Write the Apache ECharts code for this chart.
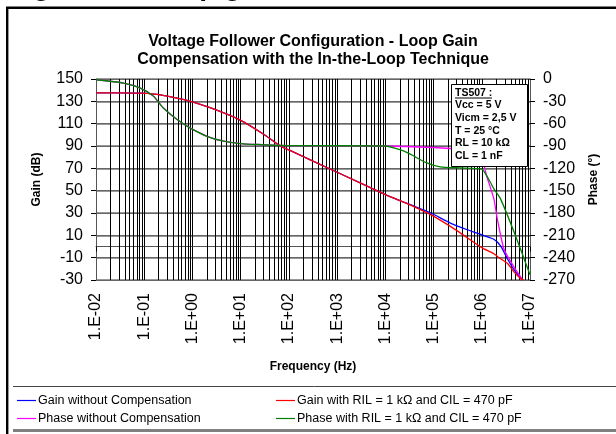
<!DOCTYPE html>
<html><head><meta charset="utf-8">
<script src="https://cdn.jsdelivr.net/npm/echarts@6/dist/echarts.min.js"></script>
<style>html,body{margin:0;padding:0;background:#fff}#c{width:616px;height:434px}</style>
</head><body><div id="c"></div>
<script>
// ---- tick labels ----
const xTickLabels = ['1.E-02','1.E-01','1.E+00','1.E+01','1.E+02','1.E+03','1.E+04','1.E+05','1.E+06','1.E+07'];
const gainTicks = [-30,-10,10,30,50,70,90,110,130,150];
const phaseTicks = [-270,-240,-210,-180,-150,-120,-90,-60,-30,0];

// ---- Gain without compensation (blue) ----
const freqGainNoComp = [0.01,0.03,0.08,0.16,0.32,0.6,1,3,10,30,66,100,1000,10000,17800,87000,224000,500000,800000,1000000,1780000,2450000,3400000,4700000,6900000];
const gainNoComp     = [137.5,137.5,137.3,136.5,134.5,132,129.5,122.5,113,100.5,90,86.5,66.5,46.5,42,30,21,15,12,10.5,6.5,0.5,-11,-21,-30];

// ---- Gain with RIL/CIL (red) ----
const freqGainComp = [0.01,0.03,0.08,0.16,0.32,0.6,1,3,10,30,66,100,1000,10000,17800,40000,87000,224000,363000,1000000,1780000,2450000,3400000,4700000,6500000,7400000];
const gainComp     = [137.5,137.5,137.3,136.5,134.5,132,129.5,122.5,113,100.5,90,86.5,66.5,46.5,42,35.5,28.5,18,12,-1,-6.5,-11,-15,-23,-29,-30];

// ---- Phase without compensation (magenta) ----
const freqPhaseNoComp = [0.01,0.037,0.081,0.155,0.25,0.48,0.89,2,4.4,9.8,22,100,10000,100000,316000,800000,1000000,1260000,1780000,2100000,2900000,4700000,6900000];
const phaseNoComp     = [-1,-5.4,-12,-23,-39,-54.5,-65.7,-77,-83.6,-86.7,-88,-89.5,-90,-92,-94,-97,-105,-130,-161,-188,-229,-253,-269];

// ---- Phase with RIL/CIL (green) ----
const freqPhaseComp = [0.01,0.037,0.081,0.155,0.25,0.48,0.89,2,4.4,9.8,22,100,10000,20000,33000,68000,138000,363000,1000000,1400000,1800000,2450000,4700000,10000000];
const phaseComp     = [-1,-5.4,-12,-23,-39,-54.5,-65.7,-77,-83.6,-86.7,-88,-89.5,-90,-95,-101,-112,-118,-119.5,-121,-135,-148,-161,-206,-263];

const seriesNames = ['Gain without Compensation','Phase without Compensation','Gain with RIL = 1 kΩ and CIL = 470 pF','Phase with RIL = 1 kΩ and CIL = 470 pF'];
const seriesColors = ['#0000ff','#ff00ff','#ff0000','#008000'];

const FONT = "'Liberation Sans', Arial, sans-serif";
const zip = (xs, ys) => xs.map((x, i) => [x, ys[i]]);

// minor vertical grid positions (2..9 within each decade)
const minorSteps = [2,3,4,5,6,7,8,9];
const decades = [0.01,0.1,1,10,100,1000,10000,100000,1000000];
const minorLines = [];
decades.forEach(d => minorSteps.forEach(k => minorLines.push({xAxis: +(d*k).toPrecision(3)})));

function lineSeries(name, data, color, yIdx, extra) {
  return Object.assign({
    name, type: 'line', data, yAxisIndex: yIdx, showSymbol: false, symbol: 'none',
    smooth: 0.2,
    lineStyle: {color, width: 1.3}, itemStyle: {color}, z: 3
  }, extra || {});
}

const chart = echarts.init(document.getElementById('c'));
const legendIcon = 'path://M0,6 L19,6 L19,7.2 L0,7.2 Z';
const boxFont = "bold 10.5px 'Liberation Sans', Arial";
chart.setOption({
  animation: false,
  backgroundColor: '#fff',
  title: {
    text: 'Voltage Follower Configuration - Loop Gain\nCompensation with the In-the-Loop Technique',
    left: 313, top: 32, textAlign: 'center', padding: 0,
    textStyle: {fontFamily: FONT, fontWeight: 'bold', fontSize: 16, lineHeight: 18.5, color: '#000'}
  },
  legend: [
    {data: [seriesNames[0], seriesNames[1]], orient: 'vertical', left: 12, top: 389, itemGap: 5,
     itemWidth: 19, itemHeight: 13, icon: legendIcon,
     textStyle: {fontFamily: FONT, fontSize: 12.5, color: '#000', padding: [0,0,0,-3]}},
    {data: [seriesNames[2], seriesNames[3]], orient: 'vertical', left: 271, top: 389, itemGap: 5,
     itemWidth: 19, itemHeight: 13, icon: legendIcon,
     textStyle: {fontFamily: FONT, fontSize: 12.5, color: '#000', padding: [0,0,0,-3]}}
  ],
  grid: {left: 96, top: 79, width: 434, height: 201},
  xAxis: {
    type: 'log', logBase: 10, min: 0.01, max: 10000000, splitNumber: 9,
    name: 'Frequency (Hz)', nameLocation: 'middle', nameGap: 81,
    nameTextStyle: {fontFamily: FONT, fontWeight: 'bold', fontSize: 12, color: '#000'},
    axisLine: {show: true, lineStyle: {color: '#555', width: 1}},
    axisTick: {show: true, length: 5, lineStyle: {color: '#000'}},
    axisLabel: {rotate: 90, margin: 13, fontFamily: FONT, fontSize: 16, color: '#000',
      formatter: v => xTickLabels[Math.round(Math.log10(v)) + 2]},
    splitLine: {show: true, lineStyle: {color: '#000', width: 1}}
  },
  yAxis: [
    {type: 'value', min: gainTicks[0], max: gainTicks[gainTicks.length-1], interval: 20, position: 'left',
     name: 'Gain (dB)', nameLocation: 'middle', nameGap: 53, nameRotate: 90,
     nameTextStyle: {fontFamily: FONT, fontWeight: 'bold', fontSize: 12, color: '#000'},
     axisLine: {show: true, lineStyle: {color: '#555'}},
     axisTick: {show: true, length: 5, lineStyle: {color: '#000'}},
     axisLabel: {margin: 13, fontFamily: FONT, fontSize: 16, color: '#000'},
     splitLine: {show: true, lineStyle: {color: '#000', width: 1}}},
    {type: 'value', min: phaseTicks[0], max: phaseTicks[phaseTicks.length-1], interval: 30, position: 'right',
     name: 'Phase (°)', nameLocation: 'middle', nameGap: 58, nameRotate: 90,
     nameTextStyle: {fontFamily: FONT, fontWeight: 'bold', fontSize: 12, color: '#000'},
     axisLine: {show: true, lineStyle: {color: '#555'}},
     axisTick: {show: true, length: 5, lineStyle: {color: '#000'}},
     axisLabel: {margin: 13, fontFamily: FONT, fontSize: 16, color: '#000'},
     splitLine: {show: true, lineStyle: {color: 'rgba(128,128,128,0.8)', width: 2}}}
  ],
  series: [
    lineSeries(seriesNames[0], zip(freqGainNoComp, gainNoComp), seriesColors[0], 0, {
      markLine: {silent: true, symbol: 'none', label: {show: false}, animation: false,
        lineStyle: {color: '#000', width: 1, type: 'solid'}, data: minorLines, z: 1}
    }),
    lineSeries(seriesNames[1], zip(freqPhaseNoComp, phaseNoComp), seriesColors[1], 1),
    lineSeries(seriesNames[2], zip(freqGainComp, gainComp), seriesColors[2], 0),
    lineSeries(seriesNames[3], zip(freqPhaseComp, phaseComp), seriesColors[3], 1)
  ],
  graphic: [
    {type: 'text', left: 8, top: -26.5, z: 10,
     style: {text: 'Figure 40. Loop gain', font: "bold 28px 'Liberation Sans', Arial", fill: '#000'}},
    {type: 'line', shape: {x1: 6, y1: 7.8, x2: 616, y2: 7.8}, style: {stroke: '#000', lineWidth: 2.4}, z: 10},
    {type: 'line', shape: {x1: 7.2, y1: 7, x2: 7.2, y2: 434}, style: {stroke: '#000', lineWidth: 2.4}, z: 10},
    {type: 'line', shape: {x1: 13, y1: 386.5, x2: 616, y2: 386.5}, style: {stroke: '#444', lineWidth: 1}, z: 10},
    {type: 'line', shape: {x1: 13, y1: 430.5, x2: 616, y2: 430.5}, style: {stroke: '#808080', lineWidth: 3}, z: 10},
    {type: 'group', zlevel: 5, z: 100, children: [
      {type: 'rect', zlevel: 5, shape: {x: 451.5, y: 84.5, width: 76, height: 82}, style: {fill: '#fff', stroke: '#000', lineWidth: 1}},
      {type: 'text', zlevel: 5, x: 455, y: 92.7, style: {text: 'TS507 :', font: boxFont, fill: '#000', textVerticalAlign: 'middle'}},
      {type: 'line', zlevel: 5, shape: {x1: 455, y1: 98, x2: 492, y2: 98}, style: {stroke: '#000', lineWidth: 1}},
      {type: 'text', zlevel: 5, x: 455, y: 105.4, style: {text: 'Vcc = 5 V', font: boxFont, fill: '#000', textVerticalAlign: 'middle'}},
      {type: 'text', zlevel: 5, x: 455, y: 118.1, style: {text: 'Vicm = 2,5 V', font: boxFont, fill: '#000', textVerticalAlign: 'middle'}},
      {type: 'text', zlevel: 5, x: 455, y: 130.8, style: {text: 'T = 25 °C', font: boxFont, fill: '#000', textVerticalAlign: 'middle'}},
      {type: 'text', zlevel: 5, x: 455, y: 143.5, style: {text: 'RL = 10 kΩ', font: boxFont, fill: '#000', textVerticalAlign: 'middle'}},
      {type: 'text', zlevel: 5, x: 455, y: 156.2, style: {text: 'CL = 1 nF', font: boxFont, fill: '#000', textVerticalAlign: 'middle'}}
    ]}
  ]
});
</script></body></html>
